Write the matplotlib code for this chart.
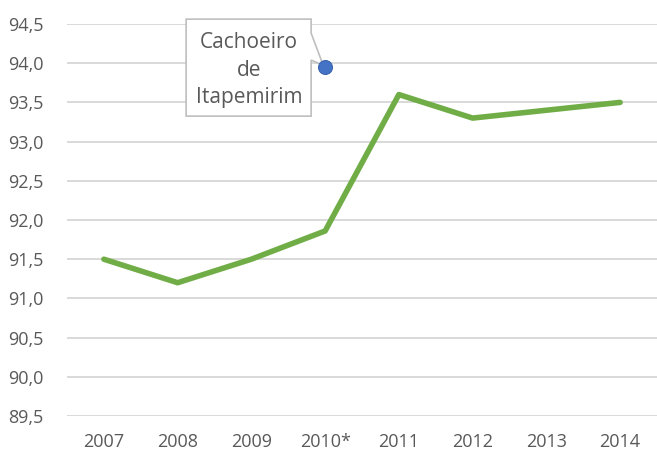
import matplotlib
matplotlib.use("Agg")
import matplotlib.pyplot as plt
from matplotlib.patches import Polygon
from matplotlib.transforms import Affine2D
from matplotlib.ticker import FuncFormatter, MultipleLocator

categories = ["2007", "2008", "2009", "2010*", "2011", "2012", "2013", "2014"]
values = [91.5, 91.2, 91.5, 91.86, 93.6, 93.3, 93.4, 93.5]
label_cat_index = 3
label_value = 93.95
label_text = "Cachoeiro\nde\nItapemirim"

plt.rcParams['font.family'] = ['Open Sans', 'DejaVu Sans']
txt_color = "#595959"
grid_color = "#D9D9D9"

fig = plt.figure(figsize=(6.57, 4.53), dpi=100)
ax = fig.add_axes([67/657, 1-416/453, 1-67/657, (416-24)/453])

x = list(range(len(categories)))
ax.plot(x, values, color="#70AD47", lw=4.0, solid_joinstyle="round", solid_capstyle="round", zorder=3)

ax.set_xlim(-0.5, len(categories)-0.5)
ax.set_ylim(89.5, 94.5)
ax.yaxis.set_major_locator(MultipleLocator(0.5))
ax.yaxis.set_major_formatter(FuncFormatter(lambda v, p: f"{v:.1f}".replace(".", ",")))
ax.set_xticks(x)
ax.set_xticklabels(categories)
ax.grid(axis="y", color=grid_color, lw=1.4)
ax.set_axisbelow(True)
for s in ax.spines.values():
    s.set_visible(False)
ax.tick_params(axis="both", length=0, labelsize=13, labelcolor=txt_color)
ax.tick_params(axis="y", pad=17)
ax.tick_params(axis="x", pad=12)

# callout
fig.canvas.draw()
px, py = ax.transData.transform((label_cat_index, label_value))
T = Affine2D().translate(px, py)
verts = [(-139, 48), (-14, 48), (-14, 34), (-2, 2), (-14, 7), (-14, -49), (-139, -49)]
poly = Polygon(verts, closed=True, transform=T, facecolor="white", edgecolor="#BFBFBF",
               lw=1.2, zorder=4, clip_on=False)
ax.add_patch(poly)
ax.text(-76, -3, label_text, transform=T, ha="center", va="center", fontsize=15,
        color=txt_color, linespacing=1.4, zorder=5)
ax.plot([label_cat_index], [label_value], "o", color="#4472C4", markersize=10,
        markeredgecolor="#3A64B0", markeredgewidth=0.8, zorder=6, clip_on=False)

fig.savefig("out.png", dpi=100)
